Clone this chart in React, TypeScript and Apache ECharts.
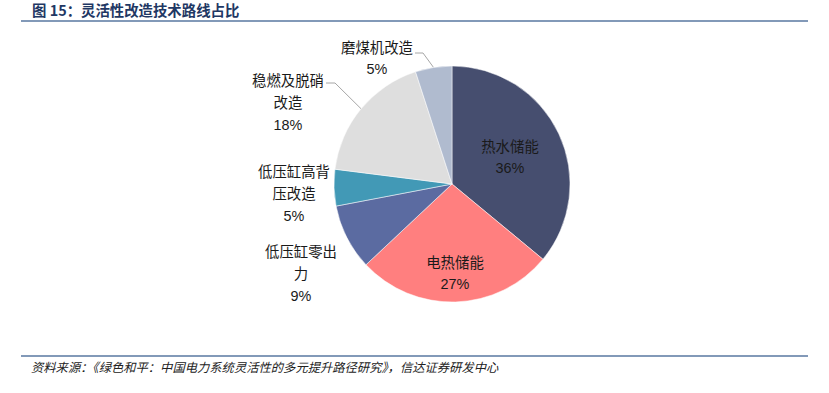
import React, { useEffect, useRef } from 'react';
import * as echarts from 'echarts';

const titleText = '图 15：灵活性改造技术路线占比';
const sourceText = '资料来源：《绿色和平：中国电力系统灵活性的多元提升路径研究》，信达证券研发中心';

const categories = ['热水储能', '电热储能', '低压缸零出力', '低压缸高背压改造', '稳燃及脱硝改造', '磨煤机改造'];
const shares = [36, 27, 9, 5, 18, 5];
const colors = ['#464E6F', '#FF7F7F', '#5B6BA1', '#4299B6', '#DEDEDE', '#B0BBCF'];
const showLine = [false, false, false, false, true, true];

// label block centres and label-line bends (layout, not data)
const labelPos = [[510, 157], [455, 273], [301, 274], [294, 194], [288, 103], [377, 58]];
const lineBends: (number[][] | null)[] = [null, null, null, null, [[335, 83], [326, 83]], [[423, 53], [415, 53]]];

const FONT = '"Liberation Sans", "Noto Sans CJK SC", sans-serif';

export default function App() {
  const ref = useRef<HTMLDivElement>(null);
  useEffect(() => {
    document.body.style.margin = '0';
    const chart = echarts.init(ref.current!, null, { renderer: 'svg' });
    chart.setOption({
      animation: false,
      backgroundColor: '#ffffff',
      graphic: [
        {
          type: 'text', x: 32, y: 9,
          style: { text: titleText, fill: '#1F3864', font: 'bold 14.4px "Noto Sans CJK SC", sans-serif', verticalAlign: 'middle' },
        },
        { type: 'line', shape: { x1: 21, y1: 21, x2: 808, y2: 21 }, style: { stroke: '#5877A0', lineWidth: 1.5 } },
        { type: 'line', shape: { x1: 21, y1: 356, x2: 808, y2: 356 }, style: { stroke: '#5877A0', lineWidth: 1.5 } },
        {
          type: 'text', x: 31, y: 367,
          style: { text: sourceText, fill: '#222', font: 'italic 12.3px "Noto Sans CJK SC", sans-serif', verticalAlign: 'middle' },
        },
      ],
      series: [
        {
          type: 'pie',
          center: [452, 184],
          radius: 118,
          startAngle: 90,
          clockwise: true,
          avoidLabelOverlap: false,
          itemStyle: { borderColor: '#ffffff', borderWidth: 0.5 },
          label: {
            show: true,
            position: 'outside',
            formatter: '{b}\n{c}%',
            color: '#1a1a1a',
            fontSize: 14.4,
            fontFamily: FONT,
            lineHeight: 22,
            width: 78,
            overflow: 'break',
            align: 'center',
          },
          labelLine: { show: true, lineStyle: { color: '#A6A6A6', width: 1 } },
          labelLayout: (p: any) => {
            const i = p.dataIndex;
            const res: any = { x: labelPos[i][0], y: labelPos[i][1], align: 'center', verticalAlign: 'middle' };
            const bend = lineBends[i];
            if (bend && p.labelLinePoints) res.labelLinePoints = [p.labelLinePoints[0], ...bend];
            return res;
          },
          data: categories.map((name, i) => ({
            name,
            value: shares[i],
            itemStyle: { color: colors[i] },
            labelLine: { show: showLine[i] },
            label: i < 2 ? { lineHeight: 21 } : i === 5 ? { lineHeight: 21 } : {},
          })),
        },
      ],
    });
    return () => chart.dispose();
  }, []);
  return <div ref={ref} style={{ width: 829, height: 393 }} />;
}
